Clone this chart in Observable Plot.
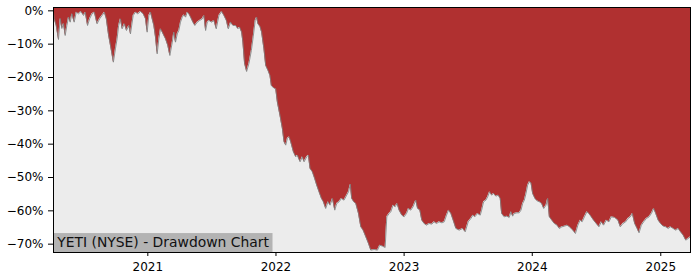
<!DOCTYPE html>
<html><head><meta charset="utf-8">
<script src="https://cdn.jsdelivr.net/npm/d3@7"></script>
<script src="https://cdn.jsdelivr.net/npm/@observablehq/plot@0.6"></script>
<style>body{margin:0;background:#fff}#chart{width:700px;height:280px}</style>
</head><body><div id="chart"></div>
<script>
const title = "YETI (NYSE) - Drawdown Chart";
const yearTicks = [2021, 2022, 2023, 2024, 2025];
const yTicks = [0, -10, -20, -30, -40, -50, -60, -70];
// dates as decimal years
const dates = [
2020.266,2020.271,2020.287,2020.305,2020.318,2020.331,2020.344,2020.357,2020.370,2020.383,
2020.396,2020.409,2020.427,2020.443,2020.461,2020.480,2020.500,2020.513,2020.531,2020.547,
2020.566,2020.584,2020.605,2020.625,2020.644,2020.662,2020.677,2020.695,2020.714,2020.732,
2020.748,2020.761,2020.773,2020.787,2020.800,2020.818,2020.834,2020.852,2020.865,2020.886,
2020.904,2020.922,2020.943,2020.964,2020.982,2020.995,2021.008,2021.021,2021.047,2021.060,
2021.073,2021.086,2021.099,2021.113,2021.125,2021.138,2021.156,2021.172,2021.191,2021.203,
2021.216,2021.230,2021.242,2021.255,2021.269,2021.281,2021.295,2021.308,2021.320,2021.334,
2021.352,2021.367,2021.386,2021.404,2021.425,2021.438,2021.451,2021.464,2021.477,2021.498,
2021.516,2021.534,2021.555,2021.576,2021.594,2021.613,2021.628,2021.646,2021.664,2021.685,
2021.703,2021.716,2021.732,2021.742,2021.755,2021.771,2021.789,2021.808,2021.823,2021.838,
2021.849,2021.859,2021.875,2021.888,2021.906,2021.920,2021.938,2021.953,2021.964,2021.984,
2021.998,2022.011,2022.031,2022.050,2022.063,2022.076,2022.089,2022.102,2022.115,2022.136,
2022.154,2022.167,2022.188,2022.206,2022.219,2022.240,2022.253,2022.266,2022.284,2022.302,
2022.318,2022.336,2022.355,2022.370,2022.388,2022.406,2022.422,2022.441,2022.459,2022.474,
2022.492,2022.511,2022.531,2022.552,2022.566,2022.580,2022.591,2022.607,2022.623,2022.644,
2022.662,2022.680,2022.701,2022.722,2022.740,2022.766,2022.792,2022.810,2022.831,2022.852,
2022.865,2022.883,2022.896,2022.914,2022.930,2022.945,2022.961,2022.982,2023.000,2023.019,
2023.034,2023.052,2023.070,2023.091,2023.105,2023.123,2023.138,2023.156,2023.175,2023.195,
2023.216,2023.234,2023.253,2023.273,2023.295,2023.313,2023.331,2023.347,2023.365,2023.383,
2023.404,2023.430,2023.456,2023.477,2023.500,2023.521,2023.537,2023.552,2023.573,2023.594,
2023.605,2023.620,2023.638,2023.652,2023.667,2023.683,2023.698,2023.716,2023.734,2023.750,
2023.761,2023.781,2023.802,2023.820,2023.834,2023.847,2023.859,2023.880,2023.898,2023.912,
2023.925,2023.938,2023.951,2023.964,2023.977,2023.990,2024.003,2024.021,2024.037,2024.055,
2024.073,2024.089,2024.107,2024.120,2024.133,2024.152,2024.172,2024.193,2024.211,2024.230,
2024.250,2024.271,2024.289,2024.316,2024.336,2024.355,2024.373,2024.388,2024.406,2024.425,
2024.441,2024.459,2024.477,2024.498,2024.519,2024.537,2024.555,2024.576,2024.597,2024.615,
2024.641,2024.667,2024.685,2024.706,2024.727,2024.745,2024.763,2024.779,2024.797,2024.816,
2024.831,2024.849,2024.867,2024.888,2024.909,2024.927,2024.945,2024.961,2024.980,2024.998,
2025.019,2025.039,2025.058,2025.076,2025.097,2025.117,2025.136,2025.154,2025.175,2025.195,
2025.214,2025.232
];
// drawdown in percent
const drawdown = [
-0.5,-2.3,-4.4,-8.6,-2.3,-5.3,-3.8,-7.4,-4.4,-1.9,
-3.4,-0.9,-3.4,-0.4,-0.9,-0.2,-1.4,-0.4,-4.4,-2.4,
-0.9,-0.4,-3.9,-2.4,-1.4,-0.4,-2.4,-7.4,-11.4,-15.4,
-11.4,-8.4,-4.4,-2.4,-5.4,-3.9,-5.9,-4.4,-6.9,-1.4,
-0.4,-0.9,-0.2,-0.9,-2.4,-6.4,-1.4,-0.4,-4.4,-7.9,
-12.9,-8.4,-5.4,-6.4,-7.4,-8.4,-10.4,-13.4,-9.4,-6.4,
-9.4,-6.9,-5.9,-3.4,-1.9,-1.2,-1.9,-0.4,-0.9,-1.9,
-3.4,-4.4,-3.4,-2.9,-2.4,-1.4,-5.9,-3.4,-2.9,-3.4,
-2.9,-5.4,-1.4,-0.2,-1.4,-2.9,-5.4,-3.4,-4.4,-4.4,
-5.4,-4.9,-6.4,-9.4,-15.8,-18.2,-15.8,-11.9,-7.6,-2.9,
-1.9,-3.9,-4.7,-6.4,-11.4,-16.4,-17.9,-19.4,-22.4,-23.2,
-23.4,-27.4,-31.3,-35.3,-39.3,-40.3,-38.3,-37.8,-39.3,-42.3,
-43.8,-43.3,-45.3,-43.8,-45.3,-43.8,-43.3,-47.3,-48.3,-50.3,
-52.3,-54.3,-56.3,-57.3,-59.3,-57.3,-58.3,-56.3,-59.8,-57.8,
-57.3,-56.3,-56.8,-55.3,-54.3,-52.0,-56.3,-57.3,-57.8,-60.8,
-64.8,-65.8,-67.8,-69.8,-71.8,-71.6,-71.8,-70.3,-70.6,-71.0,
-61.8,-60.8,-60.3,-58.3,-58.8,-57.8,-59.8,-61.3,-61.8,-60.8,
-59.3,-59.8,-58.8,-56.8,-59.3,-59.8,-62.8,-63.8,-64.3,-63.8,
-64.0,-63.3,-63.8,-63.3,-63.6,-63.3,-61.3,-59.8,-60.8,-62.8,
-65.3,-65.8,-65.3,-66.3,-63.3,-62.3,-61.3,-61.8,-60.8,-61.3,
-59.8,-57.3,-56.8,-55.8,-54.3,-55.3,-54.8,-55.6,-55.3,-56.3,
-60.8,-61.8,-61.6,-62.0,-60.3,-61.6,-60.8,-60.6,-60.6,-59.8,
-57.8,-56.8,-54.8,-52.3,-51.3,-51.6,-54.8,-56.3,-57.0,-57.3,
-57.8,-59.3,-58.3,-56.3,-61.8,-62.8,-63.8,-64.3,-65.3,-64.8,
-64.6,-64.3,-64.8,-65.8,-66.8,-64.3,-62.8,-63.3,-61.8,-60.3,
-60.8,-61.8,-62.8,-63.8,-64.8,-63.3,-64.3,-62.8,-63.3,-61.8,
-62.0,-62.8,-64.8,-63.8,-63.3,-62.3,-61.8,-60.8,-63.8,-65.3,
-66.6,-64.3,-63.3,-62.3,-61.8,-60.8,-59.3,-60.8,-62.8,-63.8,
-64.6,-64.8,-65.3,-64.8,-65.3,-65.8,-65.3,-66.3,-67.3,-68.8,
-68.3,-67.8
];

function toDate(t) {
  const y = Math.floor(t);
  const s = Date.UTC(y, 0, 1), e = Date.UTC(y + 1, 0, 1);
  return new Date(s + (t - y) * (e - s));
}
const data = dates.map((t, i) => ({date: toDate(t), dd: drawdown[i]}));
const yTop = 1.0, yBottom = -72.5;

const plot = Plot.plot({
  width: 700, height: 280,
  marginLeft: 53, marginRight: 10, marginTop: 7, marginBottom: 28,
  style: {fontFamily: "DejaVu Sans", fontSize: "12px", color: "#000", background: "#fff"},
  x: {type: "utc", domain: [data[0].date, data[data.length - 1].date],
      ticks: yearTicks.map(y => new Date(Date.UTC(y, 0, 1))),
      tickFormat: d => String(d.getUTCFullYear()), tickSize: 4, tickPadding: 6, label: null},
  y: {domain: [yBottom, yTop], ticks: yTicks,
      tickFormat: d => (d < 0 ? "\u2212" : "") + Math.abs(d) + "%",
      tickSize: 5, tickPadding: 5, label: null},
  marks: [
    Plot.frame({fill: "#ececec"}),
    Plot.areaY(data, {x: "date", y1: "dd", y2: () => yTop, fill: "#b03030", clip: true}),
    Plot.lineY(data, {x: "date", y: "dd", stroke: "#808080", strokeWidth: 1, strokeOpacity: 0.85, clip: true}),
    Plot.text([title], {frameAnchor: "bottom-left", lineAnchor: "middle", textAnchor: "start",
      dx: 3.7, dy: -9.5, fontSize: 13.9, fill: "#111", fontFamily: "DejaVu Sans"}),
    Plot.frame({stroke: "#000", strokeWidth: 1})
  ]
});
document.getElementById("chart").appendChild(plot);

// grey box behind the title label (measured in SVG coordinates)
const textEl = [...plot.querySelectorAll("text")].find(t => t.textContent === title);
if (textEl) {
  const sr = plot.getBoundingClientRect();
  const tr = textEl.getBoundingClientRect();
  const xr = plot.scale("x").range, yr = plot.scale("y").range;
  const left = Math.min(...xr), bottom = Math.max(...yr);
  const right = tr.right - sr.left + 3;
  const cy = (tr.top + tr.bottom) / 2 - sr.top;
  const top = cy - 9.4;
  const rect = document.createElementNS("http://www.w3.org/2000/svg", "rect");
  rect.setAttribute("x", left);
  rect.setAttribute("y", top);
  rect.setAttribute("width", right - left);
  rect.setAttribute("height", bottom - top);
  rect.setAttribute("fill", "#b3b3b3");
  const g = textEl.closest("g");
  g.parentNode.insertBefore(rect, g);
}
</script>
</body></html>
